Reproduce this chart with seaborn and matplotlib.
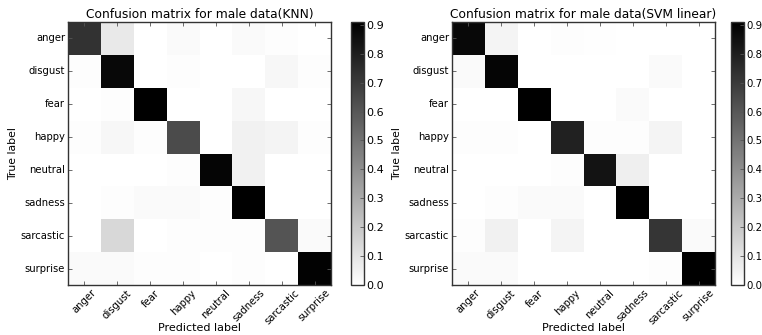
import numpy as np
import pandas as pd
import matplotlib
matplotlib.use("Agg")
import matplotlib.pyplot as plt
import seaborn as sns

classes = ["anger", "disgust", "fear", "happy", "neutral", "sadness", "sarcastic", "surprise"]

knn_anger     = [0.73, 0.08, 0.00, 0.02, 0.00, 0.02, 0.01, 0.00]
knn_disgust   = [0.01, 0.88, 0.00, 0.01, 0.00, 0.00, 0.03, 0.01]
knn_fear      = [0.00, 0.01, 0.91, 0.00, 0.00, 0.03, 0.00, 0.00]
knn_happy     = [0.01, 0.03, 0.01, 0.64, 0.00, 0.05, 0.04, 0.01]
knn_neutral   = [0.00, 0.00, 0.00, 0.01, 0.89, 0.05, 0.00, 0.00]
knn_sadness   = [0.00, 0.01, 0.02, 0.02, 0.01, 0.91, 0.00, 0.00]
knn_sarcastic = [0.00, 0.14, 0.00, 0.01, 0.01, 0.01, 0.61, 0.02]
knn_surprise  = [0.02, 0.02, 0.01, 0.01, 0.00, 0.01, 0.00, 0.90]

svm_anger     = [0.88, 0.04, 0.00, 0.01, 0.005, 0.00, 0.00, 0.00]
svm_disgust   = [0.02, 0.89, 0.00, 0.00, 0.00, 0.00, 0.02, 0.00]
svm_fear      = [0.00, 0.00, 0.91, 0.00, 0.00, 0.02, 0.00, 0.00]
svm_happy     = [0.01, 0.01, 0.00, 0.79, 0.01, 0.01, 0.04, 0.00]
svm_neutral   = [0.00, 0.00, 0.00, 0.01, 0.84, 0.06, 0.00, 0.00]
svm_sadness   = [0.00, 0.01, 0.02, 0.02, 0.00, 0.91, 0.00, 0.00]
svm_sarcastic = [0.01, 0.05, 0.00, 0.04, 0.00, 0.00, 0.72, 0.02]
svm_surprise  = [0.02, 0.02, 0.00, 0.00, 0.00, 0.00, 0.01, 0.91]

titles = ["Confusion matrix for male data(KNN)", "Confusion matrix for male data(SVM linear)"]

knn = pd.DataFrame([knn_anger, knn_disgust, knn_fear, knn_happy, knn_neutral,
                    knn_sadness, knn_sarcastic, knn_surprise], index=classes, columns=classes)
svm = pd.DataFrame([svm_anger, svm_disgust, svm_fear, svm_happy, svm_neutral,
                    svm_sadness, svm_sarcastic, svm_surprise], index=classes, columns=classes)

W, H = 762, 335
fig = plt.figure(figsize=(W / 100, H / 100), dpi=100)
plt.rcParams['font.family'] = ['DejaVu Sans']

bot = 50 / H
hgt = 263 / H
layouts = [(68, 351, 13, 8), (452, 731, 13, 7.3)]
tickc = ["0.0", "0.1", "0.2", "0.3", "0.4", "0.5", "0.6", "0.7", "0.8", "0.9"]

for data, title, (axl, cbl, cbw, cfs) in zip([knn, svm], titles, layouts):
    ax = fig.add_axes([axl / W, bot, 263 / W, hgt])
    cax = fig.add_axes([cbl / W, bot, cbw / W, hgt])
    vmax = data.values.max()
    sns.heatmap(data, ax=ax, cbar_ax=cax, cmap="gray_r", vmin=0, vmax=vmax,
                linewidths=0, square=False)
    for s in ax.spines.values():
        s.set_visible(True)
        s.set_color("#333333")
        s.set_linewidth(1.0)
    ax.set_title(title, fontsize=8.8, pad=3)
    ax.set_xlabel("Predicted label", fontsize=8, labelpad=-2)
    ax.set_ylabel("True label", fontsize=7.8, labelpad=2)
    ax.set_xticklabels(classes, rotation=45, ha="center", fontsize=7.2)
    ax.set_yticklabels(classes, rotation=0, fontsize=7.2)
    ax.tick_params(direction="in", top=True, right=True, length=3, width=0.6,
                   color="#555555", pad=2)
    cb = ax.collections[0].colorbar
    cb.outline.set_linewidth(1.0)
    cb.outline.set_edgecolor("#333333")
    cb.set_ticks([i / 10 for i in range(10)])
    cb.set_ticklabels(tickc)
    cax.tick_params(direction="in", length=3, width=0.6, labelsize=cfs, pad=1.5,
                    color="#555555")

fig.savefig("out.png", dpi=100)
